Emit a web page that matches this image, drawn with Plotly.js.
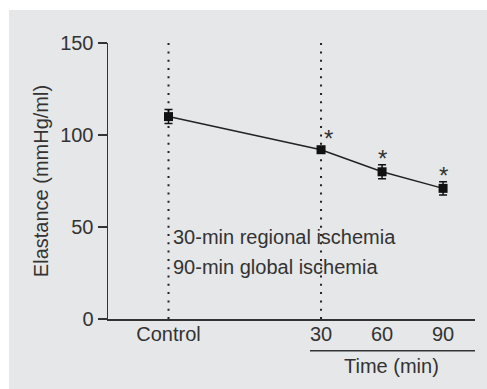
<!DOCTYPE html>
<html><head><meta charset="utf-8">
<script src="https://cdn.plot.ly/plotly-3.0.1.min.js"></script>
<style>
html,body{margin:0;padding:0;background:#ffffff;}
#chart{position:absolute;left:9px;top:10px;width:478px;height:379px;}
</style></head><body><div id="chart"></div>
<script>
// ---- data ----
const categories = ['Control', '30', '60', '90'];
const timeMin = [-45, 30, 60, 90];          // Control drawn ahead of the 30-min mark
const elastance = [110, 92, 80, 71];        // mmHg/ml
const sem = [3.8, 1.5, 3.8, 3.6];
const significance = ['', '*', '*', '*'];
const yTicks = [0, 50, 100, 150];
const notes = ['30-min regional ischemia', '90-min global ischemia'];
const xTitle = 'Time (min)';
const yTitle = 'Elastance (mmHg/ml)';

const ink = '#333333';
const font = 'Liberation Sans, Arial, sans-serif';
const fs = 20;
const bg = '#e6e7e8';

const traces = [];
// dotted reference lines at Control and at 30 min
[timeMin[0], timeMin[1]].forEach(function (t) {
  traces.push({
    x: [t, t], y: [yTicks[0], yTicks[yTicks.length - 1]],
    mode: 'lines', hoverinfo: 'skip', showlegend: false,
    line: {color: '#222222', width: 2, dash: '2px,6.3px'}
  });
});
traces.push({
  x: timeMin, y: elastance, mode: 'lines+markers', showlegend: false,
  line: {color: '#222222', width: 1.5},
  marker: {symbol: 'square', size: 9, color: '#111111'},
  error_y: {type: 'data', array: sem, visible: true, color: '#111111', thickness: 1.5, width: 4}
});

const annotations = [];
significance.forEach(function (s, i) {
  if (!s) return;
  annotations.push({
    x: timeMin[i], y: elastance[i], xref: 'x', yref: 'y', text: s, showarrow: false,
    xanchor: 'center', yanchor: 'middle', xshift: i === 1 ? 7 : 0, yshift: i === 1 ? 11 : 13,
    font: {family: font, size: 24, color: ink}
  });
});
annotations.push({
  x: timeMin[0], y: 44.3, xref: 'x', yref: 'y', text: notes[0], showarrow: false,
  xanchor: 'left', yanchor: 'middle', xshift: 2, font: {family: font, size: fs, color: ink}
});
annotations.push({
  x: timeMin[0], y: 28.4, xref: 'x', yref: 'y', text: notes[1], showarrow: false,
  xanchor: 'left', yanchor: 'middle', xshift: 2, font: {family: font, size: fs, color: ink}
});
annotations.push({
  x: 0.773, y: -0.17, xref: 'paper', yref: 'paper', text: xTitle, showarrow: false,
  xanchor: 'center', yanchor: 'middle', font: {family: font, size: fs, color: ink}
});

const layout = {
  width: 478, height: 379,
  margin: {l: 99, r: 12, t: 33, b: 70, pad: 0},
  paper_bgcolor: bg, plot_bgcolor: bg,
  font: {family: font, size: fs, color: ink},
  showlegend: false,
  xaxis: {
    range: [-74.75, 105.7], showgrid: false, zeroline: false,
    showline: true, linecolor: ink, linewidth: 1.5, ticks: '',
    tickvals: timeMin, ticktext: categories, ticklabelstandoff: -4,
    tickfont: {family: font, size: fs, color: ink}, fixedrange: true
  },
  yaxis: {
    range: [0, 150], showgrid: false, zeroline: false,
    showline: true, linecolor: ink, linewidth: 1.5,
    ticks: 'outside', ticklen: 9, tickwidth: 1.5, tickcolor: ink,
    tickvals: yTicks, ticktext: yTicks.map(String),
    tickfont: {family: font, size: fs, color: ink},
    title: {text: yTitle, standoff: 6, font: {family: font, size: fs, color: ink}},
    automargin: false, fixedrange: true
  },
  shapes: [{
    type: 'line', xref: 'paper', yref: 'paper',
    x0: 0.5504, x1: 1.0, y0: -0.115, y1: -0.115,
    line: {color: ink, width: 1.5}
  }],
  annotations: annotations
};

Plotly.newPlot('chart', traces, layout, {displayModeBar: false, staticPlot: true});
</script></body></html>
